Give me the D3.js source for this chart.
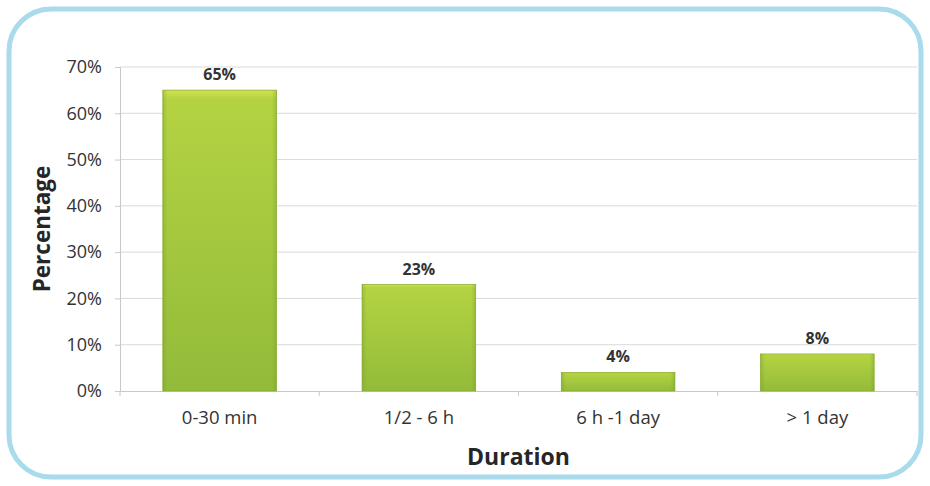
<!DOCTYPE html>
<html>
<head>
<meta charset="utf-8">
<script src="https://cdn.jsdelivr.net/npm/d3@7"></script>
<style>
  body { margin: 0; background: #fff; }
  svg { display: block; }
</style>
</head>
<body>
<svg width="930" height="486"></svg>
<script>
// data
let categories = ["0-30 min", "1/2 - 6 h", "6 h -1 day", "> 1 day"];
let values = [65, 23, 4, 8];
let yTicks = [0, 10, 20, 30, 40, 50, 60, 70];

let svg = d3.select("svg");
let width = +svg.attr("width");
let height = +svg.attr("height");

// rounded frame
svg.append("rect")
    .attr("x", 9).attr("y", 9)
    .attr("width", width - 18).attr("height", height - 18)
    .attr("rx", 42).attr("ry", 42)
    .attr("fill", "#fff")
    .attr("stroke", "#a9dbec")
    .attr("stroke-width", 5);

let margin = {left: 120, right: 13, top: 67, bottom: 95};

let x = d3.scaleBand()
    .domain(categories)
    .range([margin.left, width - margin.right])
    .paddingInner(0.43)
    .paddingOuter(0.215);

let y = d3.scaleLinear()
    .domain([0, 70])
    .range([height - margin.bottom, margin.top]);

let defs = svg.append("defs");
let grad = defs.append("linearGradient")
    .attr("id", "barFill")
    .attr("x1", 0).attr("y1", 0).attr("x2", 0).attr("y2", 1);
grad.append("stop").attr("offset", "0%").attr("stop-color", "#d2e24a");
grad.append("stop").attr("offset", "3%").attr("stop-color", "#b4d342");
grad.append("stop").attr("offset", "100%").attr("stop-color", "#93bb3a");

let side = defs.append("linearGradient")
    .attr("id", "barSide")
    .attr("x1", 0).attr("y1", 0).attr("x2", 1).attr("y2", 0);
side.append("stop").attr("offset", "0%").attr("stop-color", "#6f9a2a").attr("stop-opacity", 0.35);
side.append("stop").attr("offset", "4%").attr("stop-color", "#6f9a2a").attr("stop-opacity", 0);
side.append("stop").attr("offset", "96%").attr("stop-color", "#6f9a2a").attr("stop-opacity", 0);
side.append("stop").attr("offset", "100%").attr("stop-color", "#6f9a2a").attr("stop-opacity", 0.35);

// gridlines
svg.append("g")
    .selectAll("line")
    .data(yTicks.slice(1))
    .enter().append("line")
    .attr("x1", margin.left)
    .attr("x2", width - margin.right)
    .attr("y1", d => y(d))
    .attr("y2", d => y(d))
    .attr("stroke", "#dcd8d8")
    .attr("stroke-width", 1);

// y axis
let yAxis = svg.append("g")
    .attr("transform", "translate(" + margin.left + ",0)")
    .call(d3.axisLeft(y).tickValues(yTicks).tickFormat(d => d + "%").tickSize(5).tickPadding(13));
yAxis.select(".domain").attr("stroke", "#c8c8c8");
yAxis.selectAll(".tick line").attr("stroke", "#c8c8c8");
yAxis.selectAll("text")
    .attr("font-family", "'Open Sans', sans-serif")
    .attr("font-size", 18)
    .attr("fill", "#333");

// x axis
let xAxis = svg.append("g")
    .attr("transform", "translate(0," + y(0) + ")")
    .call(d3.axisBottom(x).tickSize(0).tickPadding(20));
xAxis.select(".domain").attr("stroke", "#c8c8c8");
xAxis.selectAll("text")
    .attr("font-family", "'Open Sans', sans-serif")
    .attr("font-size", 18.5)
    .attr("fill", "#333");

// ticks between categories
let step = x.step();
svg.append("g")
    .selectAll("line")
    .data(d3.range(categories.length + 1))
    .enter().append("line")
    .attr("x1", i => margin.left + i * step)
    .attr("x2", i => margin.left + i * step)
    .attr("y1", y(0))
    .attr("y2", y(0) + 5)
    .attr("stroke", "#c8c8c8");

// bars
let bars = svg.append("g");
bars.selectAll("rect.bar")
    .data(values)
    .enter().append("rect")
    .attr("class", "bar")
    .attr("x", (d, i) => x(categories[i]))
    .attr("y", d => y(d))
    .attr("width", x.bandwidth())
    .attr("height", d => y(0) - y(d))
    .attr("fill", "url(#barFill)")
    .attr("stroke", "#8aae34")
    .attr("stroke-width", 0.8);
bars.selectAll("rect.shade")
    .data(values)
    .enter().append("rect")
    .attr("class", "shade")
    .attr("x", (d, i) => x(categories[i]))
    .attr("y", d => y(d))
    .attr("width", x.bandwidth())
    .attr("height", d => y(0) - y(d))
    .attr("fill", "url(#barSide)");

// value labels
svg.append("g")
    .selectAll("text")
    .data(values)
    .enter().append("text")
    .attr("x", (d, i) => x(categories[i]) + x.bandwidth() / 2)
    .attr("y", d => y(d) - 10)
    .attr("text-anchor", "middle")
    .attr("font-family", "'Open Sans', sans-serif")
    .attr("font-weight", "bold")
    .attr("font-size", 16)
    .attr("fill", "#333")
    .text(d => d + "%");

// axis titles
svg.append("text")
    .attr("transform", "translate(50," + ((margin.top + y(0)) / 2) + ") rotate(-90)")
    .attr("text-anchor", "middle")
    .attr("font-family", "'Open Sans', sans-serif")
    .attr("font-weight", "bold")
    .attr("font-size", 22.5)
    .attr("fill", "#262626")
    .text("Percentage");

svg.append("text")
    .attr("x", (margin.left + width - margin.right) / 2)
    .attr("y", 465)
    .attr("text-anchor", "middle")
    .attr("font-family", "'Open Sans', sans-serif")
    .attr("font-weight", "bold")
    .attr("font-size", 23)
    .attr("fill", "#262626")
    .text("Duration");
</script>
</body>
</html>
